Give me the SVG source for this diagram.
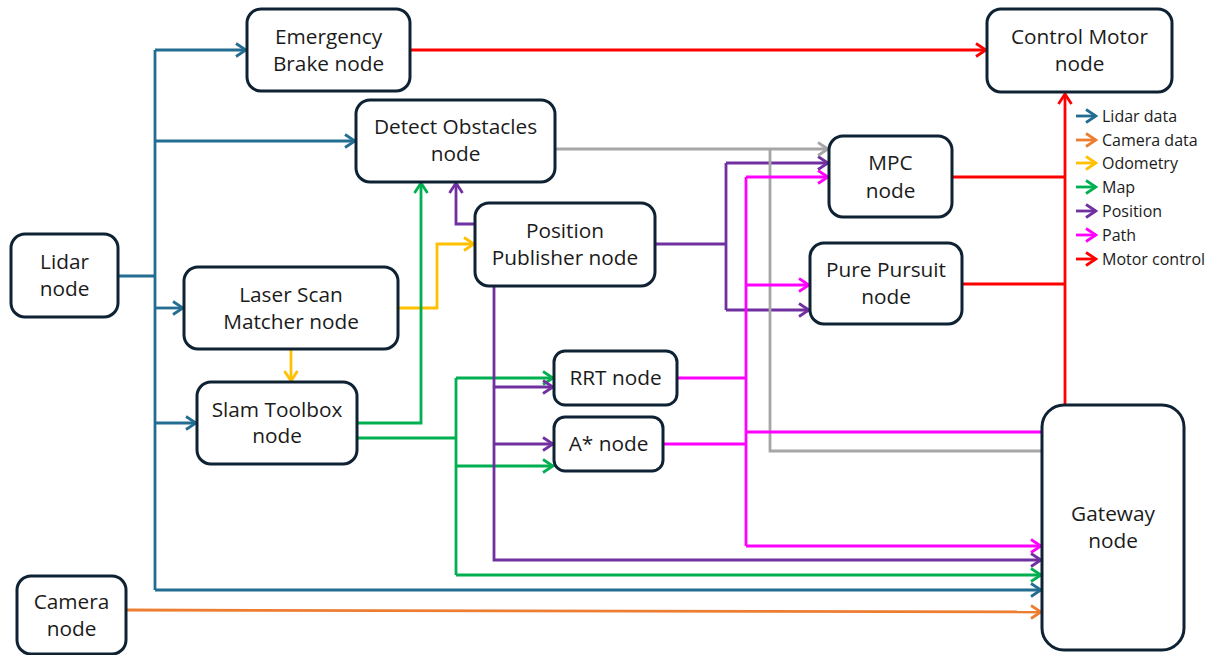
<svg xmlns="http://www.w3.org/2000/svg" width="1212" height="655" viewBox="0 0 1212 655">
  <style>
    .node rect { fill: #ffffff; stroke: #0e2233; stroke-width: 3; }
    .node text { font-family: "Open Sans", "Noto Sans", sans-serif; font-size: 20.8px; fill: #1b1b1b; text-anchor: middle; }
    .legend text { font-family: "Open Sans", "Noto Sans", sans-serif; font-size: 16px; fill: #1b1b1b; }
    .c { fill: none; stroke-width: 2.8; stroke-linejoin: miter; }
    .lidar { stroke: #236c92; }
    .cam { stroke: #ed7d31; }
    .odo { stroke: #ffc000; }
    .map { stroke: #00b050; }
    .pos { stroke: #7030a0; }
    .path { stroke: #ff00ff; }
    .motor { stroke: #ff0000; }
    .gray { stroke: #a6a6a6; }
  </style>
  <defs>
    <marker id="aLidar" markerUnits="userSpaceOnUse" markerWidth="14" markerHeight="16" refX="12" refY="8" orient="auto"><path d="M2,1.5 L12,8 L2,14.5" fill="none" stroke="#236c92" stroke-width="2.8"/></marker>
    <marker id="aCam" markerUnits="userSpaceOnUse" markerWidth="14" markerHeight="16" refX="12" refY="8" orient="auto"><path d="M2,1.5 L12,8 L2,14.5" fill="none" stroke="#ed7d31" stroke-width="2.8"/></marker>
    <marker id="aOdo" markerUnits="userSpaceOnUse" markerWidth="14" markerHeight="16" refX="12" refY="8" orient="auto"><path d="M2,1.5 L12,8 L2,14.5" fill="none" stroke="#ffc000" stroke-width="2.8"/></marker>
    <marker id="aMap" markerUnits="userSpaceOnUse" markerWidth="14" markerHeight="16" refX="12" refY="8" orient="auto"><path d="M2,1.5 L12,8 L2,14.5" fill="none" stroke="#00b050" stroke-width="2.8"/></marker>
    <marker id="aPos" markerUnits="userSpaceOnUse" markerWidth="14" markerHeight="16" refX="12" refY="8" orient="auto"><path d="M2,1.5 L12,8 L2,14.5" fill="none" stroke="#7030a0" stroke-width="2.8"/></marker>
    <marker id="aPath" markerUnits="userSpaceOnUse" markerWidth="14" markerHeight="16" refX="12" refY="8" orient="auto"><path d="M2,1.5 L12,8 L2,14.5" fill="none" stroke="#ff00ff" stroke-width="2.8"/></marker>
    <marker id="aMotor" markerUnits="userSpaceOnUse" markerWidth="14" markerHeight="16" refX="12" refY="8" orient="auto"><path d="M2,1.5 L12,8 L2,14.5" fill="none" stroke="#ff0000" stroke-width="2.8"/></marker>
    <marker id="aGray" markerUnits="userSpaceOnUse" markerWidth="14" markerHeight="16" refX="12" refY="8" orient="auto"><path d="M2,1.5 L12,8 L2,14.5" fill="none" stroke="#a6a6a6" stroke-width="2.8"/></marker>
  </defs>

  <rect width="1212" height="655" fill="#ffffff"/>

  <g id="connectors">
    <!-- Lidar data trunk and branches -->
    <path class="c lidar" d="M118,276 H155"/>
    <path class="c lidar" d="M155,50 V590"/>
    <path class="c lidar" d="M155,50 H246" marker-end="url(#aLidar)"/>
    <path class="c lidar" d="M155,141 H355" marker-end="url(#aLidar)"/>
    <path class="c lidar" d="M155,308 H183" marker-end="url(#aLidar)"/>
    <path class="c lidar" d="M155,423 H196" marker-end="url(#aLidar)"/>
    <path class="c lidar" d="M155,590 H1041" marker-end="url(#aLidar)"/>

    <!-- Camera data -->
    <path class="c cam" d="M126,610 L1041,612" marker-end="url(#aCam)"/>

    <!-- Emergency brake to motor control -->
    <path class="c motor" d="M410,50 H986" marker-end="url(#aMotor)"/>

    <!-- Odometry -->
    <path class="c odo" d="M291,349 V381" marker-end="url(#aOdo)"/>
    <path class="c odo" d="M398,308 H437 V244 H474" marker-end="url(#aOdo)"/>

    <!-- Map -->
    <path class="c map" d="M357,423 H421 V183" marker-end="url(#aMap)"/>
    <path class="c map" d="M357,438 H456"/>
    <path class="c map" d="M456,378 V575"/>
    <path class="c map" d="M456,378 H553" marker-end="url(#aMap)"/>
    <path class="c map" d="M456,466 H553" marker-end="url(#aMap)"/>
    <path class="c map" d="M456,575 H1041" marker-end="url(#aMap)"/>

    <!-- Position -->
    <path class="c pos" d="M475,224 H456 V183" marker-end="url(#aPos)"/>
    <path class="c pos" d="M494,286 V560 H1041" marker-end="url(#aPos)"/>
    <path class="c pos" d="M494,387 H553" marker-end="url(#aPos)"/>
    <path class="c pos" d="M494,444 H553" marker-end="url(#aPos)"/>
    <path class="c pos" d="M655,244 H726"/>
    <path class="c pos" d="M726,163 V310"/>
    <path class="c pos" d="M726,163 H828" marker-end="url(#aPos)"/>
    <path class="c pos" d="M726,310 H809" marker-end="url(#aPos)"/>

    <!-- Obstacle data -->
    <path class="c gray" d="M555,149 H828" marker-end="url(#aGray)"/>
    <path class="c gray" d="M1042,451 H770 V149"/>

    <!-- Path -->
    <path class="c path" d="M677,378 H746"/>
    <path class="c path" d="M663,444 H746"/>
    <path class="c path" d="M746,177 V546"/>
    <path class="c path" d="M746,177 H828" marker-end="url(#aPath)"/>
    <path class="c path" d="M746,285 H809" marker-end="url(#aPath)"/>
    <path class="c path" d="M746,546 H1041" marker-end="url(#aPath)"/>
    <path class="c path" d="M1042,432 H746"/>

    <!-- Motor control -->
    <path class="c motor" d="M952,177 H1065"/>
    <path class="c motor" d="M962,284 H1065"/>
    <path class="c motor" d="M1065,405 V94" marker-end="url(#aMotor)"/>
  </g>

  <g id="emergency-brake" class="node">
    <rect x="247" y="9" width="163" height="82" rx="14"/>
    <text x="328.5" y="44">Emergency</text>
    <text x="328.5" y="71">Brake node</text>
  </g>
  <g id="control-motor" class="node">
    <rect x="987" y="9" width="185" height="83" rx="14"/>
    <text x="1079.5" y="44">Control Motor</text>
    <text x="1079.5" y="71">node</text>
  </g>
  <g id="detect-obstacles" class="node">
    <rect x="356" y="100" width="199" height="82" rx="14"/>
    <text x="455.5" y="134">Detect Obstacles</text>
    <text x="455.5" y="161">node</text>
  </g>
  <g id="position-publisher" class="node">
    <rect x="475" y="203" width="180" height="83" rx="14"/>
    <text x="565" y="238">Position</text>
    <text x="565" y="265">Publisher node</text>
  </g>
  <g id="mpc" class="node">
    <rect x="829" y="136" width="123" height="81" rx="14"/>
    <text x="890.5" y="170">MPC</text>
    <text x="890.5" y="198">node</text>
  </g>
  <g id="pure-pursuit" class="node">
    <rect x="810" y="243" width="152" height="81" rx="14"/>
    <text x="886" y="277">Pure Pursuit</text>
    <text x="886" y="304">node</text>
  </g>
  <g id="lidar" class="node">
    <rect x="11" y="234" width="107" height="83" rx="14"/>
    <text x="64.5" y="269">Lidar</text>
    <text x="64.5" y="296">node</text>
  </g>
  <g id="laser-scan-matcher" class="node">
    <rect x="184" y="267" width="214" height="82" rx="14"/>
    <text x="291" y="302">Laser Scan</text>
    <text x="291" y="329">Matcher node</text>
  </g>
  <g id="slam-toolbox" class="node">
    <rect x="197" y="382" width="160" height="82" rx="14"/>
    <text x="277" y="417">Slam Toolbox</text>
    <text x="277" y="443">node</text>
  </g>
  <g id="camera" class="node">
    <rect x="17" y="576" width="109" height="78" rx="14"/>
    <text x="71.5" y="609">Camera</text>
    <text x="71.5" y="636">node</text>
  </g>
  <g id="rrt" class="node">
    <rect x="554" y="351" width="123" height="54" rx="11"/>
    <text x="615.5" y="385">RRT node</text>
  </g>
  <g id="a-star" class="node">
    <rect x="554" y="417" width="109" height="54" rx="11"/>
    <text x="608.5" y="451">A* node</text>
  </g>
  <g id="gateway" class="node">
    <rect x="1042" y="405" width="142" height="245" rx="22"/>
    <text x="1113" y="521">Gateway</text>
    <text x="1113" y="548">node</text>
  </g>

  <g id="legend" class="legend">
    <path class="c lidar" d="M1076,116 H1096" marker-end="url(#aLidar)"/>
    <text x="1102" y="121.5">Lidar data</text>
    <path class="c cam" d="M1076,140 H1096" marker-end="url(#aCam)"/>
    <text x="1102" y="145.5">Camera data</text>
    <path class="c odo" d="M1076,163 H1096" marker-end="url(#aOdo)"/>
    <text x="1102" y="168.5">Odometry</text>
    <path class="c map" d="M1076,187 H1096" marker-end="url(#aMap)"/>
    <text x="1102" y="192.5">Map</text>
    <path class="c pos" d="M1076,211 H1096" marker-end="url(#aPos)"/>
    <text x="1102" y="216.5">Position</text>
    <path class="c path" d="M1076,235 H1096" marker-end="url(#aPath)"/>
    <text x="1102" y="240.5">Path</text>
    <path class="c motor" d="M1076,259 H1096" marker-end="url(#aMotor)"/>
    <text x="1102" y="264.5">Motor control</text>
  </g>
</svg>
